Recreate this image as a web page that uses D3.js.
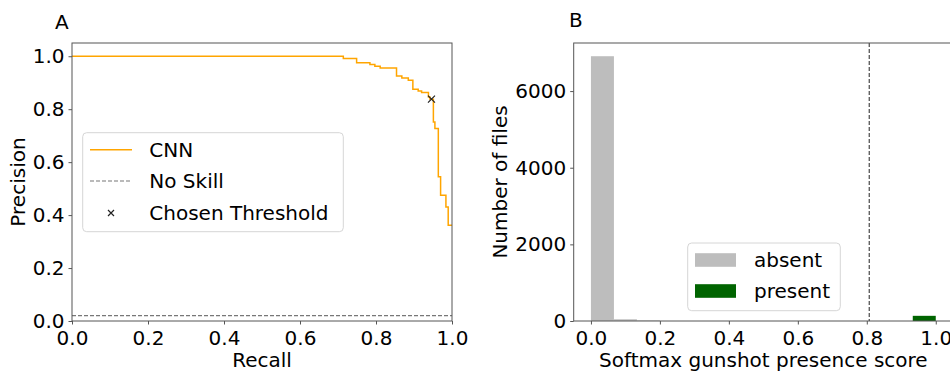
<!DOCTYPE html>
<html>
<head>
<meta charset="utf-8">
<script src="https://cdn.jsdelivr.net/npm/d3@7"></script>
<style>
  body { margin: 0; background: #fff; }
  svg { display: block; font-family: "DejaVu Sans", sans-serif; }
</style>
</head>
<body>
<div id="chart"></div>
<script>
// ---- data ----
// panel A: precision-recall curve (step points, held until next recall)
const recall    = [0, 0.714, 0.749, 0.784, 0.797, 0.811, 0.854, 0.868, 0.885, 0.897, 0.911, 0.920, 0.938, 0.942, 0.951, 0.955, 0.964, 0.970, 0.984, 0.990, 1.0];
const precision = [1.0, 0.991, 0.975, 0.969, 0.962, 0.956, 0.925, 0.918, 0.909, 0.875, 0.869, 0.863, 0.846, 0.838, 0.752, 0.727, 0.545, 0.475, 0.431, 0.362, 0.362];
const noSkill = 0.02;
const chosen = [0.946, 0.838];
const xTicksA = [0, 0.2, 0.4, 0.6, 0.8, 1.0];
const yTicksA = [0, 0.2, 0.4, 0.6, 0.8, 1.0];

// panel B: histogram of softmax scores, 15 bins over [0,1]
const binEdges = d3.range(16).map(i => i / 15);
const absentCounts  = [6910, 45, 15, 0, 0, 0, 0, 0, 0, 0, 0, 0, 0, 0, 0];
const presentCounts = [0, 0, 0, 0, 0, 0, 0, 0, 0, 0, 0, 0, 0, 0, 135];
const threshold = 0.807;
const xTicksB = [0, 0.2, 0.4, 0.6, 0.8, 1.0];
const yTicksB = [0, 2000, 4000, 6000];

const W = 950, H = 375;
const axisCol = "#555";
const fs = 20;

const svg = d3.select("#chart").append("svg").attr("width", W).attr("height", H);

function frame(g, x0, x1, y0, y1) {
  g.append("rect").attr("x", x0).attr("y", y0).attr("width", x1 - x0).attr("height", y1 - y0)
    .attr("fill", "none").attr("stroke", axisCol).attr("stroke-width", 1);
}

function styleAxis(sel) {
  sel.select(".domain").remove();
  sel.selectAll(".tick line").attr("stroke", axisCol);
  sel.selectAll(".tick text").attr("fill", "#000").style("font-size", fs + "px")
    .style("font-family", "DejaVu Sans");
}

// ================= Panel A =================
const ax = { l: 72, r: 452, t: 43, b: 321 };
const xA = d3.scaleLinear().domain([0, 1]).range([ax.l, ax.r]);
const yA = d3.scaleLinear().domain([0, 1.05]).range([ax.b, ax.t]);

const gA = svg.append("g");

gA.append("line")
  .attr("x1", xA(0)).attr("x2", xA(1)).attr("y1", yA(noSkill)).attr("y2", yA(noSkill))
  .attr("stroke", "#777").attr("stroke-width", 1.2).attr("stroke-dasharray", "4,2");

const pts = recall.map((r, i) => [r, precision[i]]);
gA.append("path").datum(pts)
  .attr("fill", "none").attr("stroke", "#FFA500").attr("stroke-width", 1.5)
  .attr("d", d3.line().x(d => xA(d[0])).y(d => yA(d[1])).curve(d3.curveStepAfter));

function xMark(g, cx, cy, s, w) {
  g.append("path")
    .attr("d", `M${cx - s},${cy - s}L${cx + s},${cy + s}M${cx - s},${cy + s}L${cx + s},${cy - s}`)
    .attr("stroke", "#222").attr("stroke-width", w).attr("fill", "none");
}
xMark(gA, xA(chosen[0]), yA(chosen[1]), 3.5, 1.2);

frame(gA, ax.l, ax.r, ax.t, ax.b);

gA.append("g").attr("transform", `translate(0,${ax.b})`)
  .call(d3.axisBottom(xA).tickValues(xTicksA).tickFormat(d3.format(".1f")).tickSize(3.5).tickPadding(6))
  .call(styleAxis);
gA.append("g").attr("transform", `translate(${ax.l},0)`)
  .call(d3.axisLeft(yA).tickValues(yTicksA).tickFormat(d3.format(".1f")).tickSize(3.5).tickPadding(4))
  .call(styleAxis);

gA.append("text").attr("x", 55).attr("y", 29).style("font-size", fs + "px").text("A");
gA.append("text").attr("x", (ax.l + ax.r) / 2).attr("y", 367).attr("text-anchor", "middle")
  .style("font-size", fs + "px").text("Recall");
gA.append("text").attr("transform", `translate(25,${(ax.t + ax.b) / 2}) rotate(-90)`)
  .attr("text-anchor", "middle").style("font-size", fs + "px").text("Precision");

// legend A
const lgA = gA.append("g");
lgA.append("rect").attr("x", 82.7).attr("y", 132.7).attr("width", 260.6).attr("height", 99)
  .attr("rx", 4).attr("fill", "#fff").attr("fill-opacity", 0.8).attr("stroke", "#d6d6d6");
const legA = [
  { label: "CNN", y: 149.7 },
  { label: "No Skill", y: 181 },
  { label: "Chosen Threshold", y: 213 }
];
lgA.append("line").attr("x1", 90).attr("x2", 132).attr("y1", legA[0].y).attr("y2", legA[0].y)
  .attr("stroke", "#FFA500").attr("stroke-width", 1.5);
lgA.append("line").attr("x1", 90).attr("x2", 132).attr("y1", legA[1].y).attr("y2", legA[1].y)
  .attr("stroke", "#777").attr("stroke-width", 1.2).attr("stroke-dasharray", "4,2");
xMark(lgA, 111, legA[2].y, 3, 1.2);
lgA.selectAll("text.lg").data(legA).enter().append("text").attr("class", "lg")
  .attr("x", 149.3).attr("y", d => d.y).attr("dy", "0.36em")
  .style("font-size", fs + "px").text(d => d.label);

// ================= Panel B =================
const bx = { l: 573.7, r: 953, t: 43, b: 321 };
const xB = d3.scaleLinear().domain([-0.05, 1.05]).range([bx.l, bx.r]);
const yB = d3.scaleLinear().domain([0, 7255]).range([bx.b, bx.t]);

const gB = svg.append("g");

function bars(counts, color) {
  const data = counts.map((c, i) => ({ x0: binEdges[i], x1: binEdges[i + 1], c })).filter(d => d.c > 0);
  gB.append("g").selectAll("rect").data(data).enter().append("rect")
    .attr("x", d => xB(d.x0)).attr("width", d => xB(d.x1) - xB(d.x0))
    .attr("y", d => yB(d.c)).attr("height", d => yB(0) - yB(d.c))
    .attr("fill", color);
}
bars(absentCounts, "#bdbdbd");
bars(presentCounts, "#006400");

gB.append("line")
  .attr("x1", xB(threshold)).attr("x2", xB(threshold)).attr("y1", bx.t).attr("y2", bx.b)
  .attr("stroke", "#222").attr("stroke-width", 1).attr("stroke-dasharray", "4,2");

frame(gB, bx.l, bx.r, bx.t, bx.b);

gB.append("g").attr("transform", `translate(0,${bx.b})`)
  .call(d3.axisBottom(xB).tickValues(xTicksB).tickFormat(d3.format(".1f")).tickSize(3.5).tickPadding(6))
  .call(styleAxis);
gB.append("g").attr("transform", `translate(${bx.l},0)`)
  .call(d3.axisLeft(yB).tickValues(yTicksB).tickFormat(d3.format("d")).tickSize(3.5).tickPadding(4))
  .call(styleAxis);

gB.append("text").attr("x", 569).attr("y", 27).style("font-size", fs + "px").text("B");
gB.append("text").attr("x", (bx.l + bx.r) / 2).attr("y", 367).attr("text-anchor", "middle")
  .style("font-size", fs + "px").text("Softmax gunshot presence score");
gB.append("text").attr("transform", `translate(507,${(bx.t + bx.b) / 2}) rotate(-90)`)
  .attr("text-anchor", "middle").style("font-size", fs + "px").text("Number of files");

// legend B
const lgB = gB.append("g");
lgB.append("rect").attr("x", 687.7).attr("y", 243).attr("width", 152.6).attr("height", 67.7)
  .attr("rx", 4).attr("fill", "#fff").attr("fill-opacity", 0.8).attr("stroke", "#d6d6d6");
const legB = [
  { label: "absent", color: "#bdbdbd", y: 260 },
  { label: "present", color: "#006400", y: 291 }
];
lgB.selectAll("rect.p").data(legB).enter().append("rect").attr("class", "p")
  .attr("x", 695).attr("width", 41).attr("y", d => d.y - 6.8).attr("height", 13.6)
  .attr("fill", d => d.color);
lgB.selectAll("text.lg").data(legB).enter().append("text").attr("class", "lg")
  .attr("x", 754).attr("y", d => d.y).attr("dy", "0.36em")
  .style("font-size", fs + "px").text(d => d.label);
</script>
</body>
</html>
